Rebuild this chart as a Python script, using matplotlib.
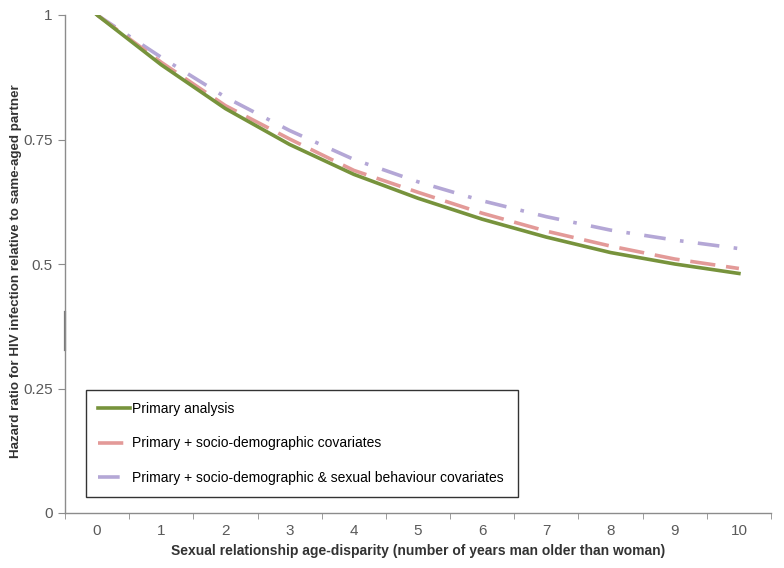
import numpy as np
import matplotlib
matplotlib.use("Agg")
import matplotlib.pyplot as plt

plt.rcParams['font.family'] = ['Liberation Sans', 'DejaVu Sans']

jaren = list(range(11))
tick_labels = [str(j) for j in jaren]
primair = [1.0, 0.900, 0.812, 0.740, 0.680, 0.632, 0.590, 0.554, 0.523, 0.500, 0.481]
socio = [1.0, 0.905, 0.818, 0.751, 0.688, 0.644, 0.602, 0.566, 0.536, 0.510, 0.491]
socio_gedrag = [1.0, 0.915, 0.835, 0.768, 0.710, 0.665, 0.627, 0.595, 0.568, 0.548, 0.531]
y_ticks = [0, 0.25, 0.5, 0.75, 1]
y_tick_labels = ["0", "0.25", "0.5", "0.75", "1"]

grijs = "#8c8c8c"

fig = plt.figure(figsize=(7.84, 5.68), dpi=100)
ax = fig.add_axes([65/784, 55/568, 706/784, 498/568])

ax.plot(jaren, primair, color="#77933C", lw=2.6, label="Primary analysis", zorder=3)
ax.plot(jaren, socio, color="#E39A98", lw=2.6, dashes=(7, 3),
        label="Primary + socio-demographic covariates", zorder=2)
ax.plot(jaren, socio_gedrag, color="#B4A7D6", lw=2.6, dashes=(6, 4, 1, 4),
        label="Primary + socio-demographic & sexual behaviour covariates", zorder=1)

ax.set_xlim(-0.5, 10.5)
ax.set_ylim(0, 1)
ax.set_xticks(jaren)
ax.set_xticklabels(tick_labels)
ax.set_xticks(np.arange(-0.5, 11, 1), minor=True)
ax.tick_params(axis="x", which="major", length=0, pad=8, labelsize=11, labelcolor="#5a5a5a")
ax.tick_params(axis="x", which="minor", length=4, color=grijs, direction="out")
ax.set_yticks(y_ticks)
ax.set_yticklabels(y_tick_labels)
ax.tick_params(axis="y", length=5, color=grijs, labelsize=11, labelcolor="#5a5a5a", pad=4)

for s in ["top", "right"]:
    ax.spines[s].set_visible(False)
for s in ["left", "bottom"]:
    ax.spines[s].set_color(grijs)
    ax.spines[s].set_linewidth(1)

# klein donker stukje op de y-as
ax.axvline(-0.5, ymin=0.327, ymax=0.404, color="#777777", lw=1.6, clip_on=False)

ax.set_xlabel("Sexual relationship age-disparity (number of years man older than woman)",
              fontsize=10, fontweight="bold", color="#333333", labelpad=4)
ax.set_ylabel("Hazard ratio for HIV infection relative to same-aged partner",
              fontsize=9.6, fontweight="bold", color="#333333")
ax.yaxis.set_label_coords(-0.061, 0.485)

leg = ax.legend(loc="lower left", bbox_to_anchor=(0.0297, 0.032, 0.612, 0.217),
                mode="expand", borderaxespad=0, fancybox=False, framealpha=1,
                edgecolor="#333333", fontsize=10, labelspacing=1.45,
                handlelength=2.3, handletextpad=0.15, borderpad=0.9)
leg.get_frame().set_linewidth(1)

fig.savefig("out.png", dpi=100)
